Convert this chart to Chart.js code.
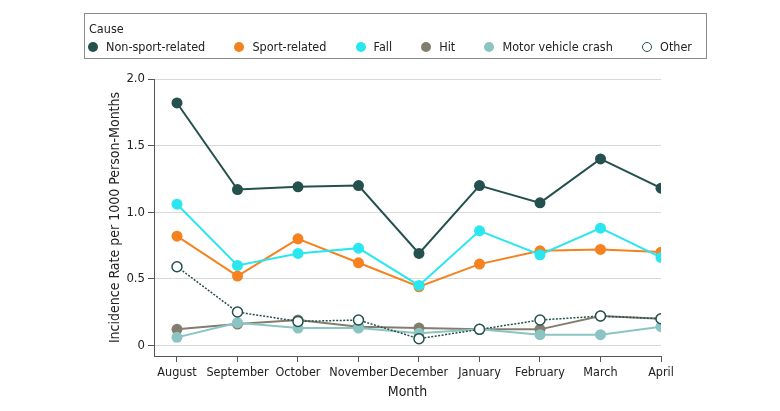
<!DOCTYPE html>
<html>
<head>
<meta charset="utf-8">
<script src="https://cdn.jsdelivr.net/npm/chart.js@4.4.0/dist/chart.umd.min.js"></script>
<style>
  html, body { margin: 0; padding: 0; background: #fff; }
  #wrap { position: relative; width: 780px; height: 411px; }
  #legend {
    position: absolute; left: 84px; top: 13px; width: 621px; height: 44px;
    border: 1.5px solid #8a8a8a; box-sizing: content-box;
    font-family: 'DejaVu Sans Condensed', sans-serif;
    font-size: 12.5px; color: #222;
  }
  #legend .title { position: absolute; left: 4px; top: 7px; }
  #legend .items {
    position: absolute; left: 3px; right: 14px; top: 25px;
    display: flex; justify-content: space-between; align-items: center;
  }
  #legend .item { display: flex; align-items: center; }
  #legend .dot { width: 10px; height: 10px; border-radius: 50%; margin-right: 8px; box-sizing: border-box; }
</style>
</head>
<body>
<div id="wrap">
  <canvas id="chart" width="780" height="411"></canvas>
  <div id="legend"><div class="title">Cause</div><div class="items" id="items"></div></div>
</div>
<script>
(function () {
    "use strict";

    // Data
    var months = ["August", "September", "October", "November", "December", "January", "February", "March", "April"];
    var causes = ["Non-sport-related", "Sport-related", "Fall", "Hit", "Motor vehicle crash", "Other"];
    var nonSport = [1.82, 1.17, 1.19, 1.20, 0.69, 1.20, 1.07, 1.40, 1.18];
    var sport = [0.82, 0.52, 0.80, 0.62, 0.44, 0.61, 0.71, 0.72, 0.70];
    var fall = [1.06, 0.60, 0.69, 0.73, 0.45, 0.86, 0.68, 0.88, 0.66];
    var hit = [0.12, 0.16, 0.19, 0.14, 0.13, 0.12, 0.12, 0.22, 0.20];
    var motor = [0.06, 0.17, 0.13, 0.13, 0.09, 0.12, 0.08, 0.08, 0.14];
    var other = [0.59, 0.25, 0.18, 0.19, 0.05, 0.12, 0.19, 0.22, 0.20];
    var yTicks = [0, 0.5, 1.0, 1.5, 2.0];

    var colors = ["#24504e", "#f5821f", "#2ae6ef", "#827e6e", "#8cc4c3", "#24504e"];
    var series = [nonSport, sport, fall, hit, motor, other];

    var font = "'DejaVu Sans Condensed', sans-serif";
    Chart.defaults.font.family = font;
    Chart.defaults.color = "#222";

    // Legend
    var items = document.getElementById("items");
    causes.forEach(function (c, i) {
        var it = document.createElement("div");
        it.className = "item";
        var d = document.createElement("span");
        d.className = "dot";
        if (i === 5) {
            d.style.background = "#fff";
            d.style.border = "1.5px solid " + colors[i];
        } else {
            d.style.background = colors[i];
        }
        it.appendChild(d);
        it.appendChild(document.createTextNode(c));
        items.appendChild(it);
    });

    var datasets = series.map(function (vals, i) {
        var isOther = i === 5;
        return {
            label: causes[i],
            data: vals.map(function (v, k) { return { x: k, y: v }; }),
            borderColor: colors[i],
            backgroundColor: isOther ? "#fff" : colors[i],
            pointBackgroundColor: isOther ? "#fff" : colors[i],
            pointBorderColor: colors[i],
            pointBorderWidth: isOther ? 1.5 : 0,
            pointRadius: isOther ? 5 : 5.5,
            borderWidth: isOther ? 1.5 : 2,
            borderDash: isOther ? [2, 1.5] : [],
            tension: 0,
            order: 5 - i
        };
    });

    var ctx = document.getElementById("chart").getContext("2d");
    new Chart(ctx, {
        type: "line",
        data: { datasets: datasets },
        options: {
            responsive: false,
            animation: false,
            layout: { padding: { left: 103, top: 79, right: 119, bottom: 0 } },
            plugins: { legend: { display: false }, tooltip: { enabled: false } },
            scales: {
                x: {
                    type: "linear",
                    min: -0.38,
                    max: 8,
                    afterFit: function (s) { s.height = 55; },
                    ticks: {
                        stepSize: 1,
                        includeBounds: false,
                        autoSkip: false,
                        maxRotation: 0,
                        padding: 3,
                        font: { size: 12.5 },
                        callback: function (v) { return months[v]; }
                    },
                    grid: { drawOnChartArea: false, drawTicks: true, tickLength: 6, tickColor: "#555" },
                    border: { color: "#555", width: 1 },
                    title: { display: true, text: "Month", font: { size: 14 }, padding: { top: 2, bottom: 10 } }
                },
                y: {
                    min: -0.08,
                    max: 2.0,
                    afterFit: function (s) { s.width = 51; },
                    afterBuildTicks: function (s) { s.ticks = yTicks.map(function (v) { return { value: v }; }); },
                    ticks: {
                        padding: 3,
                        font: { size: 13 },
                        callback: function (v) { return v === 0 ? "0" : v.toFixed(1); }
                    },
                    grid: { color: "#d9d9d9", lineWidth: 1, tickLength: 6, tickColor: "#555" },
                    border: { color: "#555", width: 1 },
                    title: { display: true, text: "Incidence Rate per 1000 Person-Months", font: { size: 14 }, padding: { top: 4, bottom: 4 } }
                }
            }
        }
    });
})();
</script>
</body>
</html>
